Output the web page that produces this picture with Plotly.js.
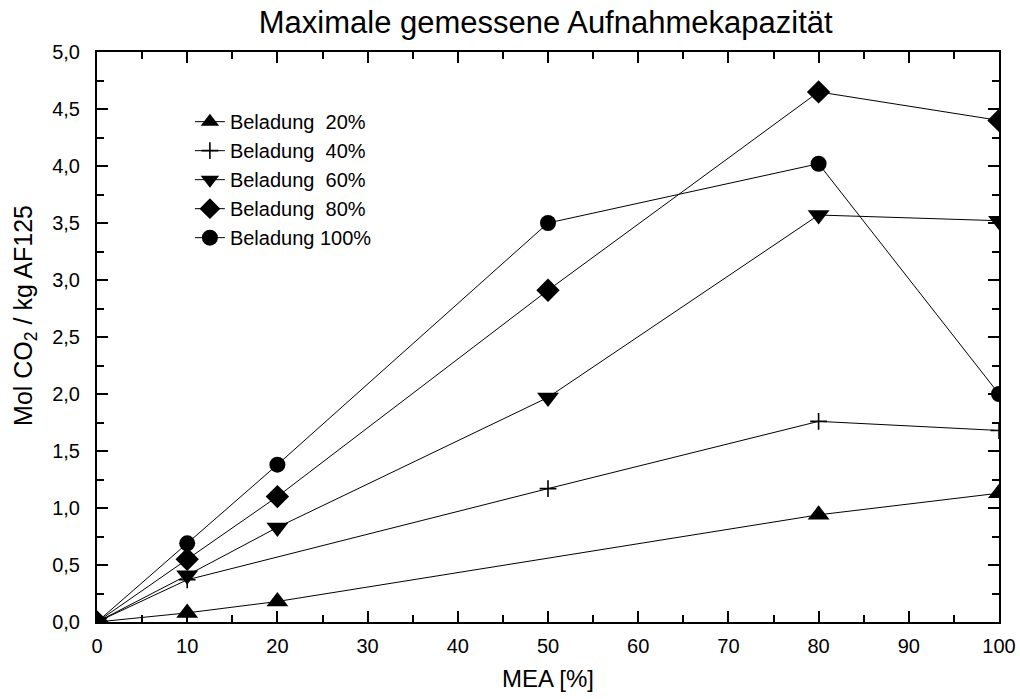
<!DOCTYPE html>
<html><head><meta charset="utf-8">
<script src="https://cdn.plot.ly/plotly-3.0.1.min.js"></script>
<style>body{margin:0;background:#fff}#c{width:1020px;height:699px}</style>
</head><body><div id="c"></div>
<script>
const mea = [0, 10, 20, 50, 80, 100];
const xs20 = [0, 10, 20, 80, 100];
const beladung20 = [0, 0.08, 0.18, 0.94, 1.13];
const xs40 = [0, 10, 50, 80, 100];
const beladung40 = [0, 0.37, 1.17, 1.76, 1.68];
const beladung60 = [0, 0.41, 0.83, 1.97, 3.57, 3.52];
const beladung80 = [0, 0.55, 1.10, 2.91, 4.65, 4.40];
const beladung100 = [0, 0.69, 1.38, 3.50, 4.02, 2.00];
const names = ['Beladung  20%', 'Beladung  40%', 'Beladung  60%', 'Beladung  80%', 'Beladung 100%'];
const titleText = 'Maximale gemessene Aufnahmekapazität';
const xTitle = 'MEA [%]';
const yTitle = 'Mol CO<sub>2</sub> / kg AF125';

function tr(x, y, name, sym, size, lw) {
  return {
    x: x, y: y, name: name, type: 'scatter', mode: 'lines+markers',
    line: {color: '#000', width: 1},
    marker: {symbol: sym, size: size, color: '#000', line: {color: '#000', width: lw || 0}}
  };
}
const data = [
  tr(xs20, beladung20, names[0], 'triangle-up', 19),
  tr(xs40, beladung40, names[1], 'cross-thin-open', 12, 1.6),
  tr(mea, beladung60, names[2], 'triangle-down', 19),
  tr(mea, beladung80, names[3], 'diamond', 18),
  tr(mea, beladung100, names[4], 'circle', 16)
];
const axisCommon = {
  showline: true, linecolor: '#000', linewidth: 2, mirror: 'allticks',
  ticks: 'inside', ticklen: 11, tickwidth: 2, tickcolor: '#000',
  showgrid: false, zeroline: false,
  tickfont: {family: 'Liberation Sans, Arial', size: 20, color: '#000'}
};
const layout = {
  width: 1020, height: 699,
  margin: {l: 97, r: 21, t: 52, b: 77},
  paper_bgcolor: '#fff', plot_bgcolor: '#fff',
  separators: ',.',
  font: {family: 'Liberation Sans, Arial', color: '#000'},
  title: {text: titleText, x: 0.535, xanchor: 'center', y: 0.968, yanchor: 'middle',
          font: {size: 31, color: '#000'}},
  xaxis: Object.assign({}, axisCommon, {
    range: [0, 100], dtick: 10, tick0: 0, ticklabelstandoff: 5,
    minor: {ticks: 'inside', ticklen: 7, tickwidth: 2, tickcolor: '#000', dtick: 5, showgrid: false},
    title: {text: xTitle, font: {size: 24, color: '#000'}, standoff: 14}
  }),
  yaxis: Object.assign({}, axisCommon, {
    range: [0, 5], dtick: 0.5, tick0: 0, tickformat: '.1f', ticklabelstandoff: 11,
    minor: {ticks: 'inside', ticklen: 7, tickwidth: 2, tickcolor: '#000', dtick: 0.25, showgrid: false}
  }),
  annotations: [{
    text: yTitle, textangle: -90, xref: 'paper', yref: 'paper',
    x: -0.0798, y: 0.537, xanchor: 'center', yanchor: 'middle', showarrow: false,
    font: {size: 25, color: '#000', family: 'Liberation Sans, Arial'}
  }],
  showlegend: true,
  legend: {x: 0.103, y: 0.912, xanchor: 'left', yanchor: 'top', bgcolor: 'rgba(0,0,0,0)',
           font: {size: 20, color: '#000'}, tracegroupgap: 0, itemwidth: 30}
};
Plotly.newPlot('c', data, layout, {displayModeBar: false});
</script></body></html>
